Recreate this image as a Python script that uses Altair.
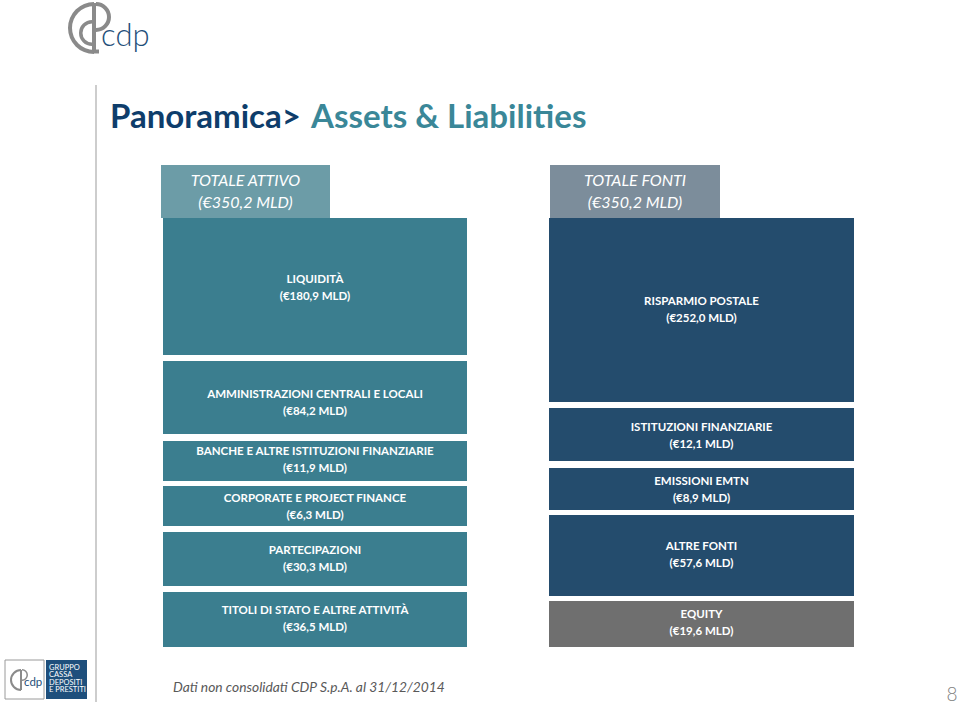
import math
import altair as alt
import pandas as pd

# ---------------- data ----------------
title_parts = ["Panoramica>", "Assets & Liabilities"]
header_labels = ["TOTALE ATTIVO", "TOTALE FONTI"]
header_values = [350.2, 350.2]

asset_labels = [
    "LIQUIDITÀ",
    "AMMINISTRAZIONI CENTRALI E LOCALI",
    "BANCHE E ALTRE ISTITUZIONI FINANZIARIE",
    "CORPORATE E PROJECT FINANCE",
    "PARTECIPAZIONI",
    "TITOLI DI STATO E ALTRE ATTIVITÀ",
]
asset_values = [180.9, 84.2, 11.9, 6.3, 30.3, 36.5]

liab_labels = [
    "RISPARMIO POSTALE",
    "ISTITUZIONI FINANZIARIE",
    "EMISSIONI EMTN",
    "ALTRE FONTI",
    "EQUITY",
]
liab_values = [252.0, 12.1, 8.9, 57.6, 19.6]
liab_kind = ["debt", "debt", "debt", "debt", "equity"]

footnote = "Dati non consolidati CDP S.p.A. al 31/12/2014"
page_number = "8"
group_lines = ["GRUPPO", "CASSA", "DEPOSITI", "E PRESTITI"]

# ---------------- slide layout (geometry, kept apart from data) ----------------
W, H = 959, 707
ASSET_X = (163, 467)
LIAB_X = (549, 854)
HEADER_X = [(161, 330), (550, 720)]
HEADER_Y = (165, 218)
asset_rows = [(218, 355), (361, 434), (441, 481), (486, 526), (532, 586), (592, 647)]
asset_text_mid = [288, 403.5, 460, 507, 559, 619]
liab_rows = [(218, 402), (408, 461), (468, 510), (515, 596), (601, 647)]
liab_text_mid = [310.5, 436, 490, 555.5, 623]

TEAL = "#3B7E8F"
NAVY = "#244C6D"
GREY = "#6F6F6F"
HEAD_TEAL = "#6C9CA7"
HEAD_NAVY = "#7C8D9B"
TITLE_NAVY = "#0E3D6B"
TITLE_TEAL = "#3A8798"
LOGO_GREY = "#8A8A8A"
LOGO_BLUE = "#1F4F7A"


def fmt(v):
    return f"(€{v:.1f} MLD)".replace(".", ",")


rows = []
for lab, val, (y0, y1), tm in zip(asset_labels, asset_values, asset_rows, asset_text_mid):
    rows.append(dict(x0=ASSET_X[0], x1=ASSET_X[1], y0=y0, y1=y1, color=TEAL,
                     label=lab, vtext=fmt(val), cx=(ASSET_X[0] + ASSET_X[1]) / 2, cy=tm))
for lab, val, kind, (y0, y1), tm in zip(liab_labels, liab_values, liab_kind, liab_rows, liab_text_mid):
    rows.append(dict(x0=LIAB_X[0], x1=LIAB_X[1], y0=y0, y1=y1,
                     color=GREY if kind == "equity" else NAVY,
                     label=lab, vtext=fmt(val), cx=(LIAB_X[0] + LIAB_X[1]) / 2, cy=tm))
blocks = pd.DataFrame(rows)

heads = pd.DataFrame([
    dict(x0=HEADER_X[i][0], x1=HEADER_X[i][1], y0=HEADER_Y[0], y1=HEADER_Y[1],
         color=[HEAD_TEAL, HEAD_NAVY][i], label=header_labels[i],
         vtext=fmt(header_values[i]),
         cx=(HEADER_X[i][0] + HEADER_X[i][1]) / 2, cy=(HEADER_Y[0] + HEADER_Y[1]) / 2)
    for i in range(2)
])

xs = alt.Scale(domain=[0, W], range=[0, W], nice=False, zero=False)
ys = alt.Scale(domain=[0, H], range=[0, H], nice=False, zero=False)


def X(f):
    return alt.X(f, scale=xs, axis=None)


def Y(f):
    return alt.Y(f, scale=ys, axis=None)


def rects(df):
    return alt.Chart(df).mark_rect().encode(
        x=X("x0:Q"), x2="x1:Q", y=Y("y0:Q"), y2="y1:Q",
        color=alt.Color("color:N", scale=None),
    )


block_rects = rects(blocks)
head_rects = rects(heads)

base_txt = dict(font="Lato", fontSize=11.5, fontWeight="bold", color="white", align="center", baseline="middle")
block_l1 = alt.Chart(blocks).mark_text(dy=-8.5, **base_txt).encode(x=X("cx:Q"), y=Y("cy:Q"), text="label:N")
block_l2 = alt.Chart(blocks).mark_text(dy=8.5, **base_txt).encode(x=X("cx:Q"), y=Y("cy:Q"), text="vtext:N")

head_txt = dict(font="Lato", fontSize=16, fontStyle="italic", color="white", align="center", baseline="middle")
head_l1 = alt.Chart(heads).mark_text(dy=-11, **head_txt).encode(x=X("cx:Q"), y=Y("cy:Q"), text="label:N")
head_l2 = alt.Chart(heads).mark_text(dy=11, **head_txt).encode(x=X("cx:Q"), y=Y("cy:Q"), text="vtext:N")

# title
title_df = pd.DataFrame([
    dict(x=110, y=128, t=title_parts[0], c=TITLE_NAVY),
    dict(x=311, y=128, t=title_parts[1], c=TITLE_TEAL),
])
title = alt.Chart(title_df).mark_text(font="Lato", fontSize=33, fontWeight="bold",
                                      align="left", baseline="alphabetic").encode(
    x=X("x:Q"), y=Y("y:Q"), text="t:N", color=alt.Color("c:N", scale=None))

# vertical separator line
sep = alt.Chart(pd.DataFrame([dict(x=96, y0=85, y1=702)])).mark_rule(color="#CDCDCD", strokeWidth=2).encode(
    x=X("x:Q"), y=Y("y0:Q"), y2="y1:Q")

# footnote + page number
foot_df = pd.DataFrame([dict(x=173, y=688, t=footnote)])
foot = alt.Chart(foot_df).mark_text(font="Lato", fontSize=13.8, fontStyle="italic", color="#595959",
                                    align="left", baseline="middle").encode(x=X("x:Q"), y=Y("y:Q"), text="t:N")
page_df = pd.DataFrame([dict(x=952, y=695, t=page_number)])
page = alt.Chart(page_df).mark_text(font="Lato", fontSize=19, fontWeight=300, color="#808080",
                                    align="center", baseline="middle").encode(x=X("x:Q"), y=Y("y:Q"), text="t:N")

# top-left logo (simplified)
def arc(cx, cy, r, r2, t0, t1, color=LOGO_GREY):
    return alt.Chart(pd.DataFrame([dict(x=cx, y=cy)])).mark_arc(
        radius=r, radius2=r2, theta=t0, theta2=t1, color=color).encode(x=X("x:Q"), y=Y("y:Q"))


def box(x0, x1, y0, y1, **kw):
    return alt.Chart(pd.DataFrame([dict(x0=x0, x1=x1, y0=y0, y1=y1)])).mark_rect(**kw).encode(
        x=X("x0:Q"), x2="x1:Q", y=Y("y0:Q"), y2="y1:Q")


logo_outer = arc(94, 28, 26, 22, math.pi, 2 * math.pi)
logo_bottom = box(93, 99, 49.5, 53.5, color=LOGO_GREY)
logo_stem = box(92, 96, 3, 53, color=LOGO_GREY)
logo_bowl = arc(96, 17, 15, 11, 0, math.pi)
logo_inner = arc(92, 33, 13, 9.5, math.pi, 2 * math.pi)
logo_txt = alt.Chart(pd.DataFrame([dict(x=101, y=46, t="cdp")])).mark_text(
    font="Lato", fontSize=31, fontWeight=300, color=LOGO_BLUE, align="left", baseline="alphabetic").encode(
    x=X("x:Q"), y=Y("y:Q"), text="t:N")

# bottom-left group logo
gl_box = box(5, 44, 660, 699, fill="white", stroke="#9A9A9A", strokeWidth=1)
gl_arc = arc(21, 680, 11, 9, math.pi, 2 * math.pi)
gl_stem = box(20, 22, 670, 690, color=LOGO_GREY)
gl_bowl = arc(22, 675, 6, 4.5, 0, math.pi)
gl_cdp = alt.Chart(pd.DataFrame([dict(x=24, y=686, t="cdp")])).mark_text(
    font="Lato", fontSize=11.5, color=LOGO_BLUE, align="left", baseline="alphabetic").encode(
    x=X("x:Q"), y=Y("y:Q"), text="t:N")
gl_blue = box(46, 87, 660, 699, color="#1E4F7C")
gl_lines = alt.Chart(pd.DataFrame([dict(x=49, y=668 + 7.4 * i, t=s) for i, s in enumerate(group_lines)])).mark_text(
    font="Lato", fontSize=7.5, color="white", align="left", baseline="middle").encode(
    x=X("x:Q"), y=Y("y:Q"), text="t:N")

chart = alt.layer(
    sep, head_rects, block_rects, head_l1, head_l2, block_l1, block_l2, title, foot, page,
    logo_outer, logo_bottom, logo_stem, logo_bowl, logo_inner, logo_txt,
    gl_box, gl_arc, gl_stem, gl_bowl, gl_cdp, gl_blue, gl_lines,
).properties(
    width=W, height=H, padding=0, autosize=alt.AutoSizeParams(type="none"), background="white",
).configure_view(stroke=None)

chart.save("out.html", embed_options={"renderer": "svg", "actions": False})
